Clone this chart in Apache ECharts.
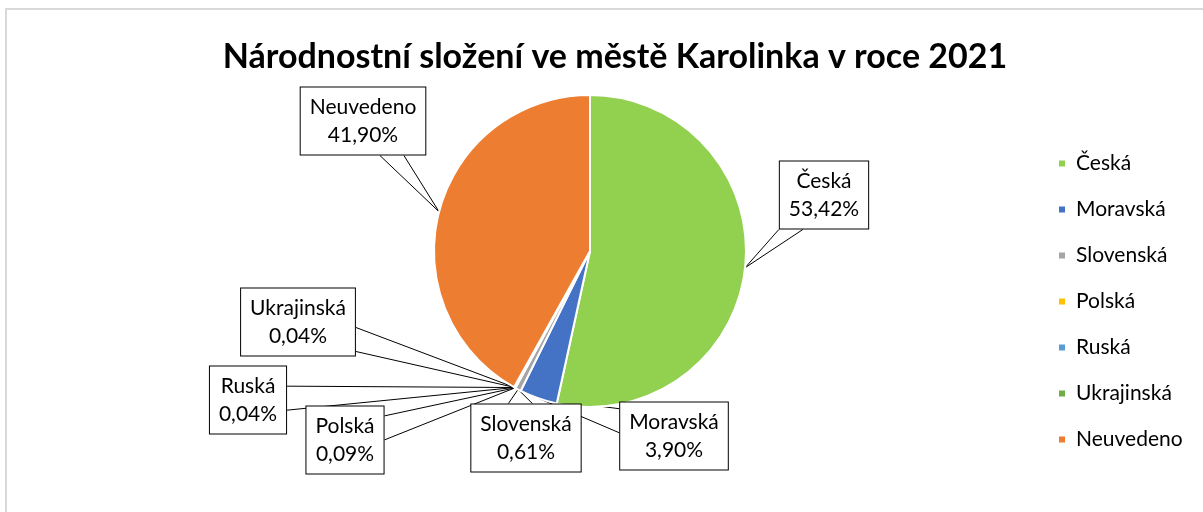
<!DOCTYPE html>
<html>
<head>
<meta charset="utf-8">
<script src="https://cdn.jsdelivr.net/npm/echarts@6/dist/echarts.min.js"></script>
<style>
  html, body { margin: 0; padding: 0; background: #fff; }
  #chart { width: 1203px; height: 512px; }
</style>
</head>
<body>
<div id="chart"></div>
<script>
var categories = ['Česká', 'Moravská', 'Slovenská', 'Polská', 'Ruská', 'Ukrajinská', 'Neuvedeno'];
var shares = [53.42, 3.90, 0.61, 0.09, 0.04, 0.04, 41.90];
var colors = ['#92d050', '#4472c4', '#a5a5a5', '#ffc000', '#5b9bd5', '#70ad47', '#ed7d31'];
// centres of the callout boxes (layout only)
var labelSpots = [[824, 195], [674, 436], [526, 438], [345, 440], [248, 400], [298, 322], [363, 121]];

var font = 'Lato, "Noto Sans", sans-serif';

function calloutLayout(params) {
  var spot = labelSpots[params.dataIndex];
  var w = params.labelRect.width, h = params.labelRect.height;
  var x0 = spot[0] - w / 2, y0 = spot[1] - h / 2, x1 = x0 + w, y1 = y0 + h;
  var res = { x: spot[0], y: spot[1], align: 'center', verticalAlign: 'middle' };
  var pts = params.labelLinePoints;
  if (pts && pts.length) {
    var tip = pts[0];
    var dx = tip[0] - spot[0], dy = tip[1] - spot[1];
    var half = 12, a, b;
    if (Math.abs(dx) / (w / 2) > Math.abs(dy) / (h / 2)) {
      var ex = dx > 0 ? x1 : x0;
      var ey = spot[1] + dy * (w / 2) / Math.abs(dx);
      ey = Math.min(Math.max(ey, y0 + half), y1 - half);
      a = [ex, ey - half]; b = [ex, ey + half];
    } else {
      var ey2 = dy > 0 ? y1 : y0;
      var ex2 = spot[0] + dx * (h / 2) / Math.abs(dy);
      ex2 = Math.min(Math.max(ex2, x0 + half), x1 - half);
      a = [ex2 - half, ey2]; b = [ex2 + half, ey2];
    }
    res.labelLinePoints = [a, tip, b];
  }
  return res;
}

var chart = echarts.init(document.getElementById('chart'));
chart.setOption({
  backgroundColor: '#fff',
  color: colors,
  title: {
    text: 'Národnostní složení ve městě Karolinka v roce 2021',
    left: 610,
    top: 35,
    textAlign: 'center',
    textStyle: { fontFamily: font, fontSize: 34, fontWeight: 'bold', color: '#000' }
  },
  legend: {
    orient: 'vertical',
    left: 1057,
    top: 153,
    padding: 0,
    icon: 'rect',
    itemWidth: 8,
    itemHeight: 8,
    itemGap: 25,
    data: categories,
    textStyle: { fontFamily: font, fontSize: 21, color: '#000', padding: [0, 0, 0, 5] }
  },
  graphic: [{
    type: 'rect',
    shape: { x: 6, y: 9, width: 1400, height: 700 },
    style: { fill: 'none', stroke: '#d9d9d9', lineWidth: 2 },
    silent: true
  }],
  series: [{
    type: 'pie',
    center: [590, 251],
    radius: 156,
    startAngle: 90,
    clockwise: true,
    avoidLabelOverlap: false,
    itemStyle: { borderColor: '#fff', borderWidth: 2 },
    label: {
      show: true,
      position: 'outside',
      formatter: function (p) {
        return p.name + '\n' + p.value.toFixed(2).replace('.', ',') + '%';
      },
      fontFamily: font,
      fontSize: 21,
      lineHeight: 28,
      color: '#000',
      align: 'center',
      backgroundColor: '#fff',
      borderColor: '#000',
      borderWidth: 1,
      padding: [6, 9, 5, 9]
    },
    labelLine: { show: true, smooth: false, lineStyle: { color: '#000', width: 1 } },
    labelLayout: calloutLayout,
    emphasis: { disabled: true },
    data: categories.map(function (name, i) { return { name: name, value: shares[i] }; })
  }]
});
</script>
</body>
</html>
